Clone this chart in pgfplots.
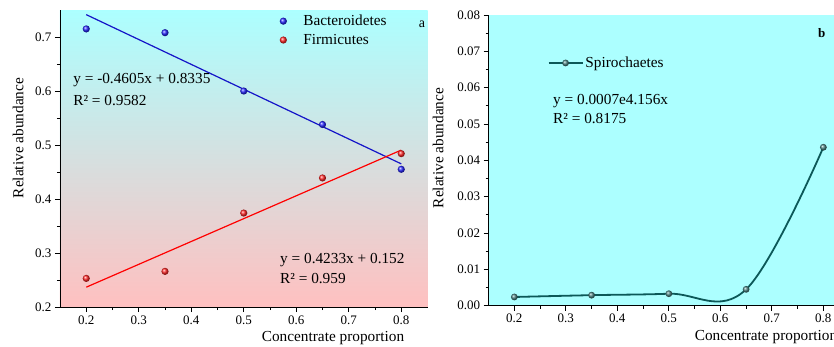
\documentclass[border=0pt]{standalone}
\usepackage{fontspec}
\setmainfont{Liberation Serif}
\usepackage{pgfplots}
\pgfplotsset{compat=1.18}
\definecolor{cy}{RGB}{172,255,255}
\definecolor{pk}{RGB}{255,192,192}
\definecolor{md}{RGB}{218,226,226}
\definecolor{teal2}{RGB}{12,88,88}
\definecolor{blueln}{RGB}{20,20,200}
\begin{document}
\begin{tikzpicture}
\pgfplotsset{
  every axis/.append style={
    scale only axis,
    /pgf/number format/assume math mode=true,
    axis x line*=bottom, axis y line*=left,
    axis line style={-, line width=0.9pt},
    tick align=outside,
    major tick length=5pt, minor tick length=3pt,
    tick style={line width=0.9pt, black},
    minor x tick num=1, minor y tick num=1,
    tick label style={font=\fontsize{13}{13}\selectfont},
    label style={font=\fontsize{15.3}{15.3}\selectfont},
    xmin=0.15, xmax=0.85,
    xtick={0.2,0.3,...,0.8},
    scaled x ticks=false, scaled y ticks=false,
    xticklabel style={/pgf/number format/fixed, /pgf/number format/precision=1},
  },
}
% Panel a
\begin{axis}[
  at={(60pt,39pt)}, anchor=south west,
  width=367.5pt, height=297pt,
  ymin=0.2, ymax=0.75,
  ytick={0.2,0.3,...,0.7},
  yticklabel style={/pgf/number format/fixed, /pgf/number format/precision=1},
  axis background/.style={top color=cy, middle color=md, bottom color=pk},
  xlabel={Concentrate proportion},
  xlabel style={at={(axis description cs:0.743,-0.104)}, anchor=center},
  ylabel={Relative abundance},
  ylabel style={at={(axis description cs:-0.114,0.569)}, anchor=center, rotate=0},
  legend style={draw=none, fill=none, at={(axis description cs:0.55,0.997)}, anchor=north west,
    font=\fontsize{15.3}{15.3}\selectfont, row sep=3pt},
  legend image code/.code={\draw[mark repeat=2,mark phase=2,#1,draw=none] plot coordinates {(0pt,0pt) (18pt,0pt) (36pt,0pt)};},
  legend cell align=left,
]
\addplot[draw=none, mark=ball, mark size=3.6pt, mark options={ball color=blue!85!white, draw opacity=0}]
  coordinates {(0.2,0.715) (0.35,0.708) (0.5,0.600) (0.65,0.538) (0.8,0.455)};
\addlegendentry{Bacteroidetes}
\addplot[draw=none, mark=ball, mark size=3.6pt, mark options={ball color=red!85!white, draw opacity=0}]
  coordinates {(0.2,0.253) (0.35,0.266) (0.5,0.374) (0.65,0.439) (0.8,0.484)};
\addlegendentry{Firmicutes}
\addplot[blueln, line width=1.2pt, forget plot] coordinates {(0.2,0.7414) (0.8,0.4651)};
\addplot[red, line width=1.2pt, forget plot] coordinates {(0.2,0.2367) (0.8,0.4906)};
\node[anchor=west, font=\fontsize{15.3}{15.3}\selectfont, inner sep=0pt] at (axis cs:0.175,0.620) {y = -0.4605x + 0.8335};
\node[anchor=west, font=\fontsize{15.3}{15.3}\selectfont, inner sep=0pt] at (axis cs:0.175,0.583) {R² = 0.9582};
\node[anchor=west, font=\fontsize{15.3}{15.3}\selectfont, inner sep=0pt] at (axis cs:0.569,0.287) {y = 0.4233x + 0.152};
\node[anchor=west, font=\fontsize{15.3}{15.3}\selectfont, inner sep=0pt] at (axis cs:0.569,0.252) {R² = 0.959};
\node[font=\fontsize{14}{14}\selectfont, inner sep=0pt] at (axis cs:0.8395,0.724) {a};
\end{axis}
% Panel b
\begin{axis}[
  at={(488.6pt,40.3pt)}, anchor=south west,
  width=360.5pt, height=290.7pt,
  ymin=0, ymax=0.08,
  ytick={0,0.01,0.02,0.03,0.04,0.05,0.06,0.07,0.08},
  yticklabel style={/pgf/number format/fixed, /pgf/number format/fixed zerofill, /pgf/number format/precision=2},
  axis background/.style={fill=cy},
  xlabel={Concentrate proportion},
  xlabel style={at={(axis description cs:0.7695,-0.108)}, anchor=center},
  ylabel={Relative abundance},
  ylabel style={at={(axis description cs:-0.140,0.5425)}, anchor=center, rotate=0},
  legend style={draw=none, fill=none, at={(axis description cs:0.155,0.835)}, anchor=west,
    font=\fontsize{15.3}{15.3}\selectfont},
  legend image code/.code={\draw[mark repeat=2,mark phase=2,#1] plot coordinates {(0pt,0pt) (17pt,0pt) (34pt,0pt)};},
]
\addplot[teal2, line width=1.8pt, smooth, tension=0.62, mark=ball, mark size=3.4pt,
  mark options={ball color=teal2!75!white, draw opacity=0}]
  coordinates {(0.2,0.0024) (0.35,0.0029) (0.5,0.0033) (0.65,0.0045) (0.8,0.0436)};
\addlegendentry{Spirochaetes}
\node[anchor=west, font=\fontsize{15.3}{15.3}\selectfont, inner sep=0pt] at (axis cs:0.275,0.0563) {y = 0.0007e4.156x};
\node[anchor=west, font=\fontsize{15.3}{15.3}\selectfont, inner sep=0pt] at (axis cs:0.275,0.0514) {R² = 0.8175};
\node[font=\fontsize{13}{13}\selectfont\bfseries, inner sep=0pt] at (axis cs:0.797,0.075) {b};
\end{axis}
\pgfresetboundingbox
\path[use as bounding box] (0pt,0pt) rectangle (834pt,346pt);
\end{tikzpicture}
\end{document}
